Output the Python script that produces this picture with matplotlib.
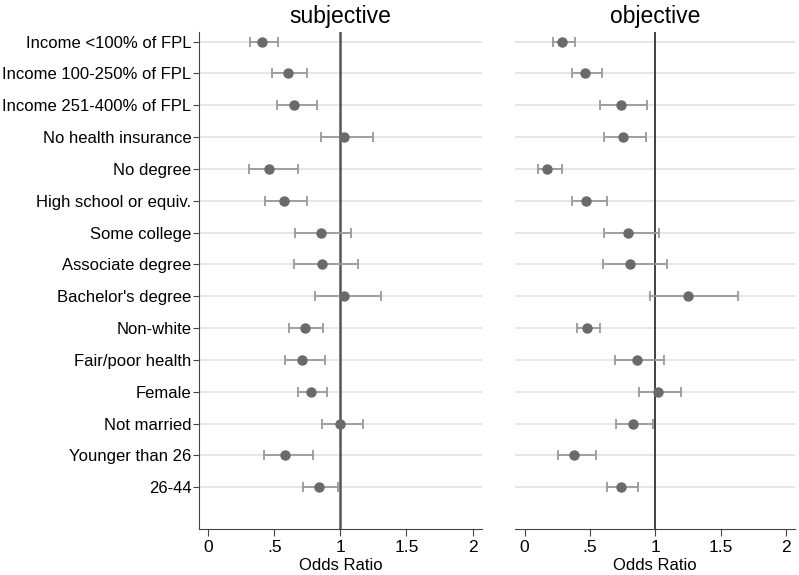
import matplotlib.pyplot as plt
import numpy as np

plt.rcParams['font.family'] = ['Liberation Sans', 'DejaVu Sans']

labels = ['Income <100% of FPL', 'Income 100-250% of FPL', 'Income 251-400% of FPL',
          'No health insurance', 'No degree', 'High school or equiv.', 'Some college',
          'Associate degree', "Bachelor's degree", 'Non-white', 'Fair/poor health',
          'Female', 'Not married', 'Younger than 26', '26-44']

subj_or = [0.41, 0.60, 0.65, 1.03, 0.46, 0.57, 0.85, 0.86, 1.03, 0.73, 0.71, 0.78, 1.00, 0.58, 0.84]
subj_lo = [0.32, 0.48, 0.52, 0.85, 0.31, 0.43, 0.66, 0.65, 0.81, 0.61, 0.58, 0.68, 0.86, 0.42, 0.72]
subj_hi = [0.53, 0.75, 0.82, 1.25, 0.68, 0.75, 1.08, 1.13, 1.31, 0.87, 0.88, 0.90, 1.17, 0.79, 0.98]

obj_or = [0.29, 0.46, 0.74, 0.75, 0.17, 0.47, 0.79, 0.81, 1.25, 0.48, 0.86, 1.02, 0.83, 0.38, 0.74]
obj_lo = [0.22, 0.36, 0.58, 0.61, 0.10, 0.36, 0.61, 0.60, 0.96, 0.40, 0.69, 0.88, 0.70, 0.26, 0.63]
obj_hi = [0.39, 0.59, 0.94, 0.93, 0.29, 0.63, 1.03, 1.09, 1.63, 0.58, 1.07, 1.20, 0.98, 0.55, 0.87]

xticks = [0, 0.5, 1, 1.5, 2]
xticklabels = ['0', '.5', '1', '1.5', '2']

fig = plt.figure(figsize=(7.99, 5.75), dpi=100)
ax1 = fig.add_axes([0.249, 0.0795, 0.354, 0.8654])
ax2 = fig.add_axes([0.645, 0.0795, 0.350, 0.8654])

ypos = np.arange(1, len(labels) + 1)


def draw_panel(ax, est, lo, hi, title, line_w, line_c):
    est = np.array(est)
    lo = np.array(lo)
    hi = np.array(hi)
    for y in ypos:
        ax.axhline(y, color='#e3e3e3', lw=1.2, zorder=0)
    ax.axvline(1, color=line_c, lw=line_w, zorder=1)
    ax.errorbar(est, ypos, xerr=[est - lo, hi - est], fmt='none',
                ecolor='#9a9a9a', elinewidth=1.3, capsize=3.5, capthick=1.3, zorder=2)
    ax.plot(est, ypos, 'o', color='#6a6a6a', ms=6.5, zorder=3)
    ax.set_xlim(-0.07, 2.07)
    ax.set_ylim(16.32, 0.69)
    ax.set_xticks(xticks)
    ax.set_xticklabels(xticklabels, fontsize=12.5)
    ax.set_xlabel('Odds Ratio', fontsize=12, labelpad=2)
    ax.set_title(title, fontsize=16.5, pad=6)
    for s in ['top', 'right']:
        ax.spines[s].set_visible(False)
    ax.spines['bottom'].set_color('#444444')
    ax.tick_params(axis='x', length=5, color='#444444', pad=3)


draw_panel(ax1, subj_or, subj_lo, subj_hi, 'subjective', 1.8, '#555555')
draw_panel(ax2, obj_or, obj_lo, obj_hi, 'objective', 1.3, '#333333')

ax1.set_yticks(ypos)
ax1.set_yticklabels(labels, fontsize=12)
ax1.spines['left'].set_color('#444444')
ax1.tick_params(axis='y', length=4, color='#444444', pad=1.5)

ax2.set_yticks([])
ax2.spines['left'].set_visible(False)

fig.savefig('out.png', dpi=100)
